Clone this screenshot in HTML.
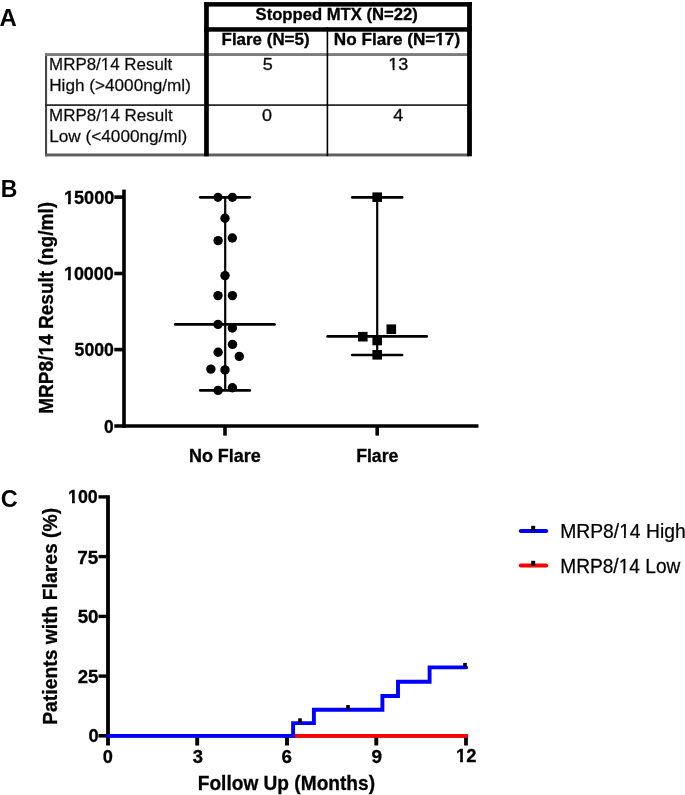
<!DOCTYPE html>
<html><head><meta charset="utf-8">
<style>
html,body{margin:0;padding:0;background:#fff;width:685px;height:795px;overflow:hidden}
svg{display:block;will-change:transform}
text{font-family:"Liberation Sans",sans-serif;fill:#000}
</style></head><body>
<svg width="685" height="795" viewBox="0 0 685 795">
<rect width="685" height="795" fill="#fff"/>
<g>
<rect width="685" height="795" fill="#fff"/>
<!-- ============ PANEL A table ============ -->
<rect x="45" y="53" width="2.1" height="103.3" fill="#444"/>
<rect x="45" y="53.1" width="424" height="2.9" fill="#7c7c7c"/>
<rect x="45" y="153.5" width="424" height="2.9" fill="#5e5e5e"/>
<rect x="45" y="104.2" width="424" height="1.8" fill="#2e2e2e"/>
<rect x="204.1" y="2.1" width="4.7" height="154.2" fill="#000"/>
<rect x="467.1" y="2.1" width="4.8" height="154.2" fill="#000"/>
<rect x="204.1" y="2.1" width="267.8" height="4.5" fill="#000"/>
<rect x="204.1" y="27.2" width="267.8" height="4.5" fill="#000"/>
<rect x="326.6" y="27.2" width="1.6" height="129" fill="#000"/>

<!-- ============ PANEL B axes ============ -->
<g stroke="#000" fill="none">
  <line x1="124" y1="189.6" x2="124" y2="427.7" stroke-width="3.6"/>
  <line x1="114.3" y1="426" x2="478.5" y2="426" stroke-width="3.5"/>
  <line x1="114.3" y1="197.1" x2="123" y2="197.1" stroke-width="3.6"/>
  <line x1="114.3" y1="273.5" x2="123" y2="273.5" stroke-width="3.6"/>
  <line x1="114.3" y1="349.6" x2="123" y2="349.6" stroke-width="3.6"/>
  <line x1="225" y1="427" x2="225" y2="435.6" stroke-width="3.6"/>
  <line x1="377.2" y1="427" x2="377.2" y2="435.6" stroke-width="3.6"/>
</g>

<!-- No flare group -->
<g stroke="#000" fill="none" stroke-width="2.7" stroke-linecap="round">
  <line x1="225.2" y1="197.4" x2="225.2" y2="390.4" stroke-width="2.2" stroke-linecap="butt"/>
  <line x1="200.2" y1="197.3" x2="249.8" y2="197.3"/>
  <line x1="200.2" y1="390.4" x2="249.8" y2="390.4"/>
  <line x1="175.3" y1="324.4" x2="274.5" y2="324.4"/>
</g>
<g fill="#000">
  <circle cx="218" cy="197.3" r="4.6"/>
  <circle cx="232.4" cy="197.3" r="4.6"/>
  <circle cx="225" cy="218.2" r="4.7"/>
  <circle cx="218.1" cy="240.6" r="4.7"/>
  <circle cx="232.3" cy="238" r="4.7"/>
  <circle cx="225" cy="275.6" r="4.7"/>
  <circle cx="218" cy="295.6" r="4.7"/>
  <circle cx="232.4" cy="295.6" r="4.7"/>
  <circle cx="218" cy="324.4" r="4.7"/>
  <circle cx="232.4" cy="328" r="4.7"/>
  <circle cx="232.5" cy="344.4" r="4.7"/>
  <circle cx="218.1" cy="352.3" r="4.7"/>
  <circle cx="239.3" cy="356.4" r="4.7"/>
  <circle cx="210.9" cy="369.1" r="4.7"/>
  <circle cx="225" cy="369.9" r="4.7"/>
  <circle cx="218.1" cy="390.4" r="4.7"/>
  <circle cx="232.4" cy="387.7" r="4.7"/>
</g>

<!-- Flare group -->
<g stroke="#000" fill="none" stroke-width="2.6" stroke-linecap="round">
  <line x1="377.2" y1="197.4" x2="377.2" y2="355" stroke-width="2.2" stroke-linecap="butt"/>
  <line x1="352.2" y1="197.4" x2="402.2" y2="197.4"/>
  <line x1="352.2" y1="355" x2="402.2" y2="355"/>
  <line x1="327.6" y1="336.4" x2="426.8" y2="336.4"/>
</g>
<g fill="#000">
  <rect x="372.4" y="192.4" width="9.6" height="9.6"/>
  <rect x="358" y="331.9" width="9.6" height="9.6"/>
  <rect x="372.4" y="335.7" width="9.6" height="9.6"/>
  <rect x="386.5" y="324.4" width="9.6" height="9.6"/>
  <rect x="372.4" y="350" width="9.6" height="9.6"/>
</g>

<!-- ============ PANEL C axes ============ -->
<g stroke="#000" fill="none">
  <line x1="108" y1="495.2" x2="108" y2="745.5" stroke-width="3.8"/>
  <line x1="98.5" y1="496.9" x2="107" y2="496.9" stroke-width="3.4"/>
  <line x1="98.5" y1="556.6" x2="107" y2="556.6" stroke-width="3.4"/>
  <line x1="98.5" y1="616.4" x2="107" y2="616.4" stroke-width="3.4"/>
  <line x1="98.5" y1="676.1" x2="107" y2="676.1" stroke-width="3.4"/>
  <line x1="98.5" y1="735.8" x2="107" y2="735.8" stroke-width="3.6"/>
  <line x1="106" y1="735.9" x2="467" y2="735.9" stroke-width="3.0"/>
  <line x1="197.2" y1="737" x2="197.2" y2="745.5" stroke-width="3.9"/>
  <line x1="287" y1="737" x2="287" y2="745.5" stroke-width="3.9"/>
  <line x1="376.3" y1="737" x2="376.3" y2="745.5" stroke-width="3.9"/>
  <line x1="466" y1="737" x2="466" y2="745.5" stroke-width="3.8"/>
</g>

<path d="M292 735.9 H468" stroke="#f00" stroke-width="3.9" fill="none"/>
<path d="M108 735.9 H293.1 V723.1 H313.9 V709.8 H382.4 V696 H398 V681.8 H429.6 V667.4 H466.1" stroke="#00f" stroke-width="3.9" fill="none" stroke-linecap="round"/>
<!-- censor ticks -->
<g stroke="#000" stroke-width="3.6">
  <line x1="300" y1="718.3" x2="300" y2="723"/>
  <line x1="348" y1="705" x2="348" y2="709.6"/>
  <line x1="465" y1="662.9" x2="465" y2="667"/>
</g>

<!-- legend -->
<line x1="520.8" y1="530.9" x2="546.2" y2="530.9" stroke="#00f" stroke-width="4" stroke-linecap="round"/>
<line x1="533.2" y1="525.8" x2="533.2" y2="531" stroke="#000" stroke-width="4"/>
<line x1="520.8" y1="565.6" x2="546.2" y2="565.6" stroke="#f00" stroke-width="4" stroke-linecap="round"/>
<line x1="533.2" y1="560.8" x2="533.2" y2="565.8" stroke="#000" stroke-width="4"/>
<text font-weight="bold" font-size="23.0" transform="translate(-0.52,25.60) scale(1.0400,1)">A</text>
<text font-weight="bold" font-size="16" transform="translate(255.54,20.00) scale(1.0400,1)" stroke="#000" stroke-width="0.3">Stopped MTX (N=22)</text>
<text font-weight="bold" font-size="16" transform="translate(221.54,45.00) scale(1.0601,1)" stroke="#000" stroke-width="0.3">Flare (N=5)</text>
<text font-weight="bold" font-size="16" transform="translate(333.83,44.90) scale(1.0727,1)" stroke="#000" stroke-width="0.3">No Flare (N=17)</text>
<g fill="#fff" transform="translate(333.83,44.90) scale(1.0727,1)"><rect x="94.91" y="-2.58" width="3.27" height="3.78"/><rect x="100.67" y="-2.58" width="2.90" height="3.78"/></g>
<text font-size="16.5" transform="translate(49.12,69.80) scale(1.0261,1)" fill="#1e1e1e" stroke="#3a3a3a" stroke-width="0.3">MRP8/14 Result</text>
<g fill="#fff" transform="translate(49.12,69.80) scale(1.0261,1)"><rect x="50.71" y="-2.18" width="3.68" height="3.38"/><rect x="56.14" y="-2.18" width="3.43" height="3.38"/></g>
<text font-size="16.5" transform="translate(49.20,90.90) scale(1.0410,1)" fill="#1e1e1e" stroke="#3a3a3a" stroke-width="0.3">High (&gt;4000ng/ml)</text>
<text font-size="16.5" transform="translate(49.11,120.70) scale(1.0294,1)" fill="#1e1e1e" stroke="#3a3a3a" stroke-width="0.3">MRP8/14 Result</text>
<g fill="#fff" transform="translate(49.11,120.70) scale(1.0294,1)"><rect x="50.72" y="-2.18" width="3.68" height="3.38"/><rect x="56.15" y="-2.18" width="3.43" height="3.38"/></g>
<text font-size="16.5" transform="translate(49.20,141.50) scale(1.0421,1)" fill="#1e1e1e" stroke="#3a3a3a" stroke-width="0.3">Low (&lt;4000ng/ml)</text>
<text font-size="16.8" transform="translate(262.65,70.00) scale(1.0700,1)" fill="#1e1e1e" stroke="#2a2a2a" stroke-width="0.4">5</text>
<text font-size="16.8" transform="translate(388.33,70.00) scale(1.0700,1)" fill="#1e1e1e" stroke="#2a2a2a" stroke-width="0.4">13</text>
<g fill="#fff" transform="translate(388.33,70.00) scale(1.0700,1)"><rect x="0.33" y="-2.21" width="3.70" height="3.41"/><rect x="5.91" y="-2.21" width="3.44" height="3.41"/></g>
<text font-size="16.8" transform="translate(262.05,120.70) scale(1.0700,1)" fill="#1e1e1e" stroke="#2a2a2a" stroke-width="0.4">0</text>
<text font-size="16.8" transform="translate(393.15,120.70) scale(1.0700,1)" fill="#1e1e1e" stroke="#2a2a2a" stroke-width="0.4">4</text>
<text font-weight="bold" font-size="23.0" transform="translate(0.70,196.90) scale(1.0000,1)">B</text>
<text font-weight="bold" font-size="20" transform="translate(53.10,413.79) rotate(-90) scale(0.9535,1)" stroke="#000" stroke-width="0.3">MRP8/14 Result (ng/ml)</text>
<g fill="#fff" transform="translate(53.10,413.79) rotate(-90) scale(0.9535,1)"><rect x="61.48" y="-3.22" width="4.13" height="4.42"/><rect x="68.65" y="-3.22" width="3.67" height="4.42"/></g>
<text font-weight="bold" font-size="17.8" transform="translate(63.88,204.15) scale(1.0199,1)" stroke="#000" stroke-width="0.3">15000</text>
<g fill="#fff" transform="translate(63.88,204.15) scale(1.0199,1)"><rect x="0.35" y="-2.87" width="3.66" height="4.07"/><rect x="6.75" y="-2.87" width="3.25" height="4.07"/></g>
<text font-weight="bold" font-size="17.8" transform="translate(63.89,279.95) scale(1.0094,1)" stroke="#000" stroke-width="0.3">10000</text>
<g fill="#fff" transform="translate(63.89,279.95) scale(1.0094,1)"><rect x="0.35" y="-2.87" width="3.66" height="4.07"/><rect x="6.75" y="-2.87" width="3.25" height="4.07"/></g>
<text font-weight="bold" font-size="17.8" transform="translate(74.60,356.35) scale(0.9922,1)" stroke="#000" stroke-width="0.3">5000</text>
<text font-weight="bold" font-size="17.8" transform="translate(104.11,432.55) scale(0.9714,1)" stroke="#000" stroke-width="0.3">0</text>
<text font-weight="bold" font-size="18.2" transform="translate(188.91,461.60) scale(0.9881,1)" stroke="#000" stroke-width="0.3">No Flare</text>
<text font-weight="bold" font-size="18.2" transform="translate(356.13,461.50) scale(0.9738,1)" stroke="#000" stroke-width="0.3">Flare</text>
<text font-weight="bold" font-size="23.5" transform="translate(0.75,507.05) scale(1.0000,1)">C</text>
<text font-weight="bold" font-size="20.2" transform="translate(57.10,724.80) rotate(-90) scale(0.9572,1)" stroke="#000" stroke-width="0.3">Patients with Flares (%)</text>
<text font-weight="bold" font-size="18.8" transform="translate(68.06,503.35) scale(0.9445,1)" stroke="#000" stroke-width="0.3">100</text>
<g fill="#fff" transform="translate(68.06,503.35) scale(0.9445,1)"><rect x="0.37" y="-3.03" width="3.87" height="4.23"/><rect x="7.12" y="-3.03" width="3.44" height="4.23"/></g>
<text font-weight="bold" font-size="18.8" transform="translate(77.34,563.75) scale(1.0076,1)" stroke="#000" stroke-width="0.3">75</text>
<text font-weight="bold" font-size="18.8" transform="translate(77.70,622.85) scale(0.9975,1)" stroke="#000" stroke-width="0.3">50</text>
<text font-weight="bold" font-size="18.8" transform="translate(77.70,682.85) scale(0.9900,1)" stroke="#000" stroke-width="0.3">25</text>
<text font-weight="bold" font-size="18.8" transform="translate(88.61,742.45) scale(0.9730,1)" stroke="#000" stroke-width="0.3">0</text>
<text font-weight="bold" font-size="19.2" transform="translate(102.63,762.55) scale(0.9474,1)" stroke="#000" stroke-width="0.3">0</text>
<text font-weight="bold" font-size="19.2" transform="translate(192.66,762.55) scale(0.9641,1)" stroke="#000" stroke-width="0.3">3</text>
<text font-weight="bold" font-size="19.2" transform="translate(281.61,762.55) scale(0.9789,1)" stroke="#000" stroke-width="0.3">6</text>
<text font-weight="bold" font-size="19.2" transform="translate(371.41,762.55) scale(0.9895,1)" stroke="#000" stroke-width="0.3">9</text>
<text font-weight="bold" font-size="19.2" transform="translate(455.94,762.30) scale(0.9570,1)" stroke="#000" stroke-width="0.3">12</text>
<g fill="#fff" transform="translate(455.94,762.30) scale(0.9570,1)"><rect x="0.38" y="-3.09" width="3.96" height="4.29"/><rect x="7.27" y="-3.09" width="3.52" height="4.29"/></g>
<text font-weight="bold" font-size="19.5" transform="translate(197.77,790.40) scale(0.9807,1)" stroke="#000" stroke-width="0.3">Follow Up (Months)</text>
<text font-size="20.3" transform="translate(560.17,537.90) scale(0.9509,1)" stroke="#000" stroke-width="0.25">MRP8/14 High</text>
<g fill="#fff" transform="translate(560.17,537.90) scale(0.9509,1)"><rect x="62.40" y="-2.68" width="4.58" height="3.88"/><rect x="69.03" y="-2.68" width="4.28" height="3.88"/></g>
<text font-size="20.3" transform="translate(560.19,573.10) scale(0.9429,1)" stroke="#000" stroke-width="0.25">MRP8/14 Low</text>
<g fill="#fff" transform="translate(560.19,573.10) scale(0.9429,1)"><rect x="62.39" y="-2.68" width="4.58" height="3.88"/><rect x="69.02" y="-2.68" width="4.28" height="3.88"/></g>
</g>
</svg>
</body></html>
